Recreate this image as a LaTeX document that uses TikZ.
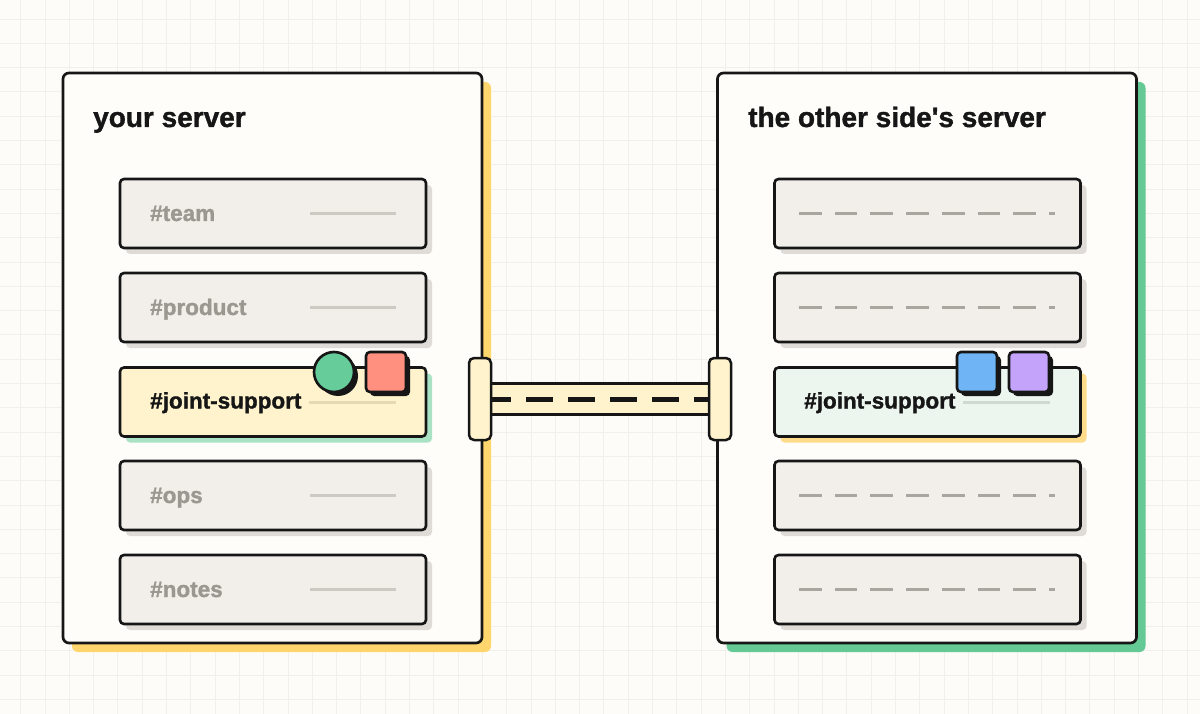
\documentclass[tikz,border=0pt]{standalone}
\usepackage{fontspec}
\setmainfont{Liberation Sans}[Ligatures=TeXOff,BoldFeatures={FakeBold=1.3}]
\usetikzlibrary{shadows,calc}
\definecolor{bg}{HTML}{FDFCF8}
\definecolor{gridc}{HTML}{F2F0EA}
\definecolor{ink}{HTML}{161616}
\definecolor{paper}{HTML}{FEFDFA}
\definecolor{rowfill}{HTML}{F2EFEA}
\definecolor{rowshadow}{HTML}{DFDCD7}
\definecolor{yel}{HTML}{FFD66E}
\definecolor{grn}{HTML}{64C994}
\definecolor{cream}{HTML}{FEF3CC}
\definecolor{mint}{HTML}{ECF6EF}
\definecolor{mintshadow}{HTML}{A9E2C5}
\definecolor{yelshadow}{HTML}{FFDC8A}
\definecolor{graytext}{HTML}{9B9892}
\definecolor{grayline}{HTML}{CDC9C3}
\definecolor{creamline}{HTML}{E3DAB4}
\definecolor{mintline}{HTML}{CFD8D1}
\definecolor{dashc}{HTML}{A9A59F}
\definecolor{circc}{HTML}{66CC99}
\definecolor{coral}{HTML}{FF9080}
\definecolor{bluesq}{HTML}{6FB4F4}
\definecolor{purp}{HTML}{C4A4FB}
\pgfdeclarelayer{bglayer}
\pgfdeclarelayer{midlayer}
\pgfsetlayers{bglayer,midlayer,main}
\begin{document}
\begin{tikzpicture}[x=1pt,y=-1pt,
  server/.style={draw=ink,line width=2.7pt,fill=paper,rounded corners=6pt,
    minimum width=419pt,minimum height=570pt,inner sep=0pt,outer sep=0pt,
    drop shadow={shadow xshift=9pt,shadow yshift=-9pt,fill=#1,opacity=1}},
  chanbase/.style={draw=ink,line width=2.6pt,rounded corners=4pt,
    minimum width=306pt,minimum height=69pt,inner sep=0pt,outer sep=0pt},
  chan/.style={chanbase,fill=rowfill,
    drop shadow={shadow xshift=6pt,shadow yshift=-6pt,fill=rowshadow,opacity=1}},
  jointL/.style={chanbase,fill=cream,
    drop shadow={shadow xshift=6pt,shadow yshift=-6pt,fill=mintshadow,opacity=1}},
  jointR/.style={chanbase,fill=mint,
    drop shadow={shadow xshift=6pt,shadow yshift=-6pt,fill=yelshadow,opacity=1}},
  title/.style={anchor=base west,inner sep=0pt,text=ink,
    font=\fontsize{28}{30}\selectfont\bfseries},
  lbl/.style={anchor=base west,inner sep=0pt,text=graytext,
    font=\fontsize{22.5}{24}\selectfont\bfseries},
  lbldark/.style={lbl,text=ink},
  gline/.style={draw=grayline,line width=3pt},
  dline/.style={draw=dashc,line width=3pt,dash pattern=on 22.7pt off 13pt},
  icon/.style={draw=ink,line width=2.6pt,minimum size=40pt,inner sep=0pt,
    drop shadow={shadow xshift=4pt,shadow yshift=-4pt,fill=ink,opacity=1}},
  sq/.style={icon,rectangle,rounded corners=4pt},
  post/.style={draw=ink,line width=2.5pt,fill=cream,rounded corners=5pt,
    minimum width=22pt,minimum height=82pt,inner sep=0pt,outer sep=0pt},
  gridline/.style={draw=gridc,line width=0.9pt}
]
\useasboundingbox (0,0) rectangle (1200,714);
\begin{pgfonlayer}{bglayer}
\fill[bg] (0,0) rectangle (1200,714);
\foreach \i in {0,...,49} {\draw[gridline] ({20.7+24.3*\i},0) -- ({20.7+24.3*\i},714);}
\foreach \j in {0,...,28} {\draw[gridline] (0,{19+24.3*\j}) -- (1200,{19+24.3*\j});}
\end{pgfonlayer}

% servers
\node[server=yel] (srvL) at (272.5,358) {};
\node[server=grn] (srvR) at (927,358) {};
\node[title] (titleL) at (93,127) {your server};
\node[title] (titleR) at (748,127) {the other side's server};

% left channels
\foreach \n/\y/\t in {1/213.5/team,2/307.5/product,4/495.5/ops,5/589.5/notes} {
  \node[chan] (l\n) at (273,\y) {};
  \node[lbl] (lt\n) at ($(l\n.center)+(-123,7.5)$) {\#\t};
  \draw[gline] ($(l\n.center)+(37,0)$) -- ($(l\n.center)+(123,0)$);
}
\node[jointL] (l3) at (273,402) {};
\node[lbldark] (lt3) at ($(l3.center)+(-123,6.5)$) {\#joint-support};
\draw[draw=creamline,line width=3pt] ($(l3.center)+(36,0)$) -- ($(l3.center)+(123,0)$);
\node[icon,circle,fill=circc] (iconC) at (334,372) {};
\node[sq,fill=coral] (iconS) at (386,372) {};

% right channels
\foreach \n/\y in {1/213.5,2/307.5,4/495.5,5/589.5} {
  \node[chan] (r\n) at (927.5,\y) {};
  \draw[dline] ($(r\n.center)+(-128.5,0)$) -- ($(r\n.center)+(127.5,0)$);
}
\node[jointR] (r3) at (927.5,402) {};
\node[lbldark] (rt3) at ($(r3.center)+(-123.5,6.5)$) {\#joint-support};
\draw[draw=mintline,line width=3pt] ($(r3.center)+(35.5,0)$) -- ($(r3.center)+(122.5,0)$);
\node[sq,fill=bluesq] (iconB) at (977,372) {};
\node[sq,fill=purp] (iconP) at (1029,372) {};

% bridge
\node[post] (pL) at (480,399) {};
\node[post] (pR) at (720,399) {};
\begin{pgfonlayer}{midlayer}
\fill[cream] ($(pL.center)+(0,-15.5)$) rectangle ($(pR.center)+(0,15.5)$);
\draw[ink,line width=2.5pt] ($(pL.center)+(0,-15.5)$) -- ($(pR.center)+(0,-15.5)$);
\draw[ink,line width=2.5pt] ($(pL.center)+(0,15.5)$) -- ($(pR.center)+(0,15.5)$);
\draw[ink,line width=5pt,dash pattern=on 26.7pt off 15.3pt,dash phase=-4pt] (pL.center) -- (pR.center);
\end{pgfonlayer}
\end{tikzpicture}
\end{document}
